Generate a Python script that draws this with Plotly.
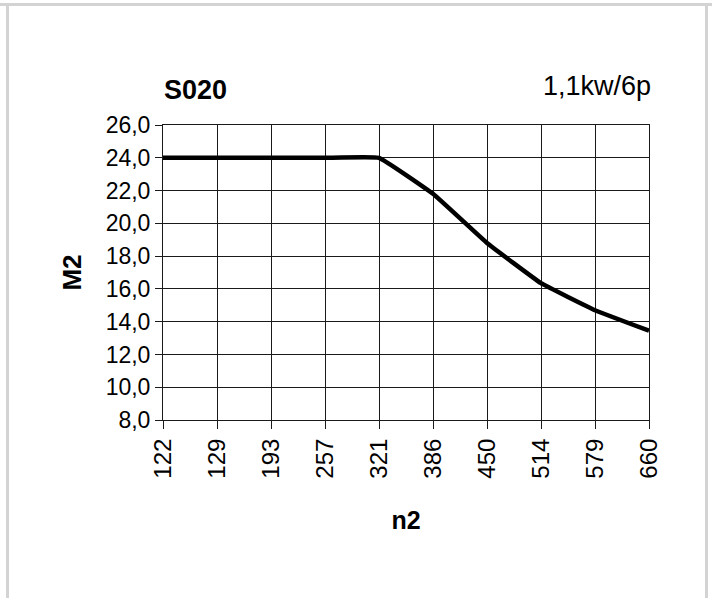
import plotly.graph_objects as go

# data
n2 = ["122", "129", "193", "257", "321", "386", "450", "514", "579", "660"]
M2 = [24.0, 24.0, 24.0, 24.0, 24.0, 21.8, 18.8, 16.35, 14.7, 13.45]
y_ticks = [8, 10, 12, 14, 16, 18, 20, 22, 24, 26]

W, H = 712, 598
L, R, T, B = 163, 63, 125, 178
FONT = "Liberation Sans, Arial, sans-serif"

fig = go.Figure()
fig.add_trace(go.Scatter(x=n2, y=M2, mode="lines",
                         line=dict(color="black", width=4.5, shape="spline", smoothing=0.25),
                         showlegend=False, hoverinfo="skip"))

fig.update_layout(
    width=W, height=H,
    margin=dict(l=L, r=R, t=T, b=B, pad=0),
    paper_bgcolor="white", plot_bgcolor="white",
    separators=",.",
    font=dict(family=FONT, color="black", size=23),
)

fig.update_xaxes(
    type="category", range=[0, len(n2) - 1],
    showgrid=True, gridcolor="#1a1a1a", gridwidth=1,
    showline=True, linecolor="#1a1a1a", linewidth=1, mirror=True,
    ticks="outside", ticklen=8, tickcolor="#1a1a1a",
    tickangle=-90, tickfont=dict(size=24),
    title=dict(text="<b>n2</b>", font=dict(size=25), standoff=33),
    zeroline=False,
)
fig.update_yaxes(
    range=[8, 26], tickvals=y_ticks, tickformat=".1f",
    showgrid=True, gridcolor="#1a1a1a", gridwidth=1,
    showline=True, linecolor="#1a1a1a", linewidth=1, mirror=True,
    ticks="outside", ticklen=7, tickcolor="#1a1a1a",
    tickfont=dict(size=23),
    title=dict(text="<b>M2</b>", font=dict(size=26), standoff=16),
    zeroline=False,
)

pw, ph = W - L - R, H - T - B
def px(x):
    return (x - L) / pw
def py(y):
    return (H - B - y) / ph

# titles
fig.add_annotation(text="<b>S020</b>", xref="paper", yref="paper",
                   x=px(162), y=py(90), xanchor="left", yanchor="middle",
                   showarrow=False, font=dict(size=27, family=FONT))
fig.add_annotation(text="1,1kw/6p", xref="paper", yref="paper",
                   x=px(653), y=py(86), xanchor="right", yanchor="middle",
                   showarrow=False, font=dict(size=27, family=FONT))

# light grey frame around the picture
frame = dict(color="#d3d3d3", width=3)
fig.add_shape(type="line", xref="paper", yref="paper", x0=px(0), x1=px(712), y0=py(4.5), y1=py(4.5), line=frame)
fig.add_shape(type="line", xref="paper", yref="paper", x0=px(7.5), x1=px(7.5), y0=py(4.5), y1=py(598), line=frame)
fig.add_shape(type="line", xref="paper", yref="paper", x0=px(706.5), x1=px(706.5), y0=py(4.5), y1=py(598), line=frame)

fig.write_html("out.html", config={"displayModeBar": False},
               post_script="document.body.style.margin='0';")
